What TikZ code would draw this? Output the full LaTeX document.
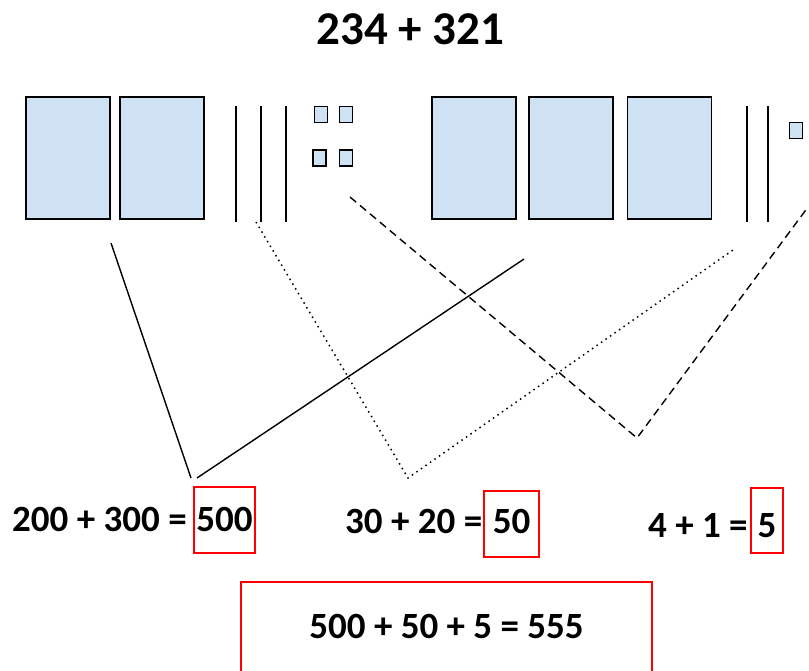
\documentclass[tikz,border=0pt]{standalone}
\usepackage{fontspec}
\setmainfont{Carlito}
\definecolor{blockblue}{HTML}{CFE2F3}
\definecolor{boxred}{HTML}{FF0000}
\tikzset{
  hundred/.style={draw=black, fill=blockblue, line width=1.5pt, minimum width=84pt, minimum height=122pt, inner sep=0pt},
  unit/.style={draw=black, fill=blockblue, line width=1.7pt, minimum width=13pt, minimum height=16pt, inner sep=0pt},
  rod/.style={line width=1.6pt},
  eq/.style={font=\fontsize{37}{44}\selectfont\bfseries, inner sep=0pt},
  answer/.style={draw=boxred, line width=1.5pt, inner sep=0pt, anchor=base, font=\fontsize{37}{44}\selectfont\bfseries},
  solidlink/.style={line width=1.4pt},
  dottedlink/.style={line width=1.5pt, dash pattern=on 1.5pt off 4pt},
  dashedlink/.style={line width=1.4pt, dash pattern=on 8pt off 5pt}
}
\begin{document}
\begin{tikzpicture}[x=1pt,y=-1pt]
\useasboundingbox (0,0) rectangle (809,670);
% title
\node[eq, font=\fontsize{47}{56}\selectfont\bfseries, anchor=base] (title) at (410.5,44) {234 + 321};
% first number 234
\node[hundred] (h1) at (68,158) {};
\node[hundred] (h2) at (162,158) {};
\draw[rod] (236,106) -- (236,222);
\draw[rod] (261,106) -- (261,222);
\draw[rod] (286,106) -- (286,222);
\node[unit] (u1) at (321,114.5) {};
\node[unit] (u2) at (346,114.5) {};
\node[unit] (u3) at (319.5,158) {};
\node[unit] (u4) at (346,158) {};
% second number 321
\node[hundred] (h3) at (474,158) {};
\node[hundred] (h4) at (571,158) {};
\node[hundred] (h5) at (669.5,158) {};
\draw[rod] (747,106) -- (747,222);
\draw[rod] (768,106) -- (768,222);
\node[unit] (u5) at (796,130.5) {};
% connector end points
\coordinate (s1a) at (111,243);
\coordinate (s1b) at (191,478);
\coordinate (s2a) at (524,259);
\coordinate (s2b) at (197,478);
\coordinate (d1a) at (256,222);
\coordinate (d1b) at (408,478);
\coordinate (d2a) at (733,250);
\coordinate (k1a) at (350,197);
\coordinate (k1b) at (637,438);
\coordinate (k2a) at (808,207);
\draw[solidlink] (s1a) -- (s1b);
\draw[solidlink] (s2a) -- (s2b);
\draw[dottedlink] (d1a) -- (d1b) -- (d2a);
\draw[dashedlink] (k1a) -- (k1b) -- (k2a);
% equations
\node[eq, anchor=base west] (e1) at (12,531) {200 + 300 =};
\node[answer, minimum width=61pt, text height=44pt, text depth=22pt] (a1) at (224.5,531) {500};
\node[eq, anchor=base west] (e2) at (345,533) {30 + 20 =};
\node[answer, minimum width=55pt, text height=42pt, text depth=24pt] (a2) at (511.5,533) {50};
\node[eq, anchor=base west] (e3) at (648,537) {4 + 1 =};
\node[answer, minimum width=32pt, text height=49pt, text depth=16pt] (a3) at (767,537) {5};
% total
\node[answer, minimum width=411pt, text height=56pt, text depth=50pt] (total) at (446.5,638) {500 + 50 + 5 = 555};
\end{tikzpicture}
\end{document}
